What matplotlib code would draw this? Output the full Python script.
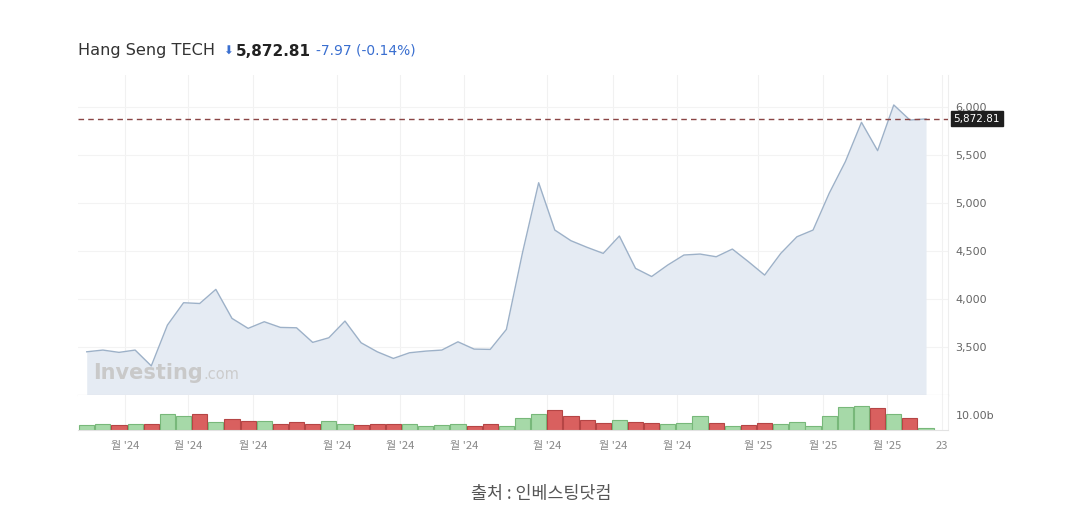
import numpy as np
import matplotlib
matplotlib.use("Agg")
import matplotlib.pyplot as plt

plt.rcParams['font.family'] = ['DejaVu Sans', 'Noto Sans CJK KR']

# ---- data (weekly closes, weekly volume in billions) ----
closes = [3447, 3465, 3441, 3465, 3300, 3725, 3958, 3950, 4097, 3795,
          3691, 3760, 3701, 3697, 3545, 3593, 3767, 3541, 3447, 3378,
          3437, 3454, 3465, 3551, 3475, 3472, 3680, 4480, 5208, 4715,
          4604, 4535, 4472, 4653, 4316, 4231, 4351, 4455, 4465, 4437,
          4517, 4385, 4246, 4472, 4645, 4715, 5098, 5427, 5837, 5542,
          6018, 5861, 5872.81]
volumes = [3.45, 3.9, 3.2, 3.9, 4.1, 10.6, 9.2, 10.6, 5.3, 7.6,
           5.75, 5.75, 3.9, 5.3, 4.1, 5.75, 3.9, 3.45, 4.1, 3.7,
           3.9, 2.8, 3.45, 3.9, 2.8, 3.7, 3.0, 8.3, 10.6, 13.3,
           9.4, 6.7, 4.8, 6.4, 5.3, 4.8, 4.1, 4.8, 9.2, 4.8,
           2.5, 3.45, 4.8, 4.1, 5.3, 2.5, 9.2, 15.2, 16.1, 14.5,
           10.6, 8.05, 1.4]
x_tick_pos = [2.37, 6.28, 10.3, 15.5, 19.4, 23.4, 28.5, 32.6, 36.6, 41.6, 45.6, 49.6, 53.0]
x_tick_labels = ["월 '24"] * 9 + ["월 '25"] * 3 + ["23"]
price_ticks = [3500, 4000, 4500, 5000, 5500, 6000]
price_tick_labels = ["3,500", "4,000", "4,500", "5,000", "5,500", "6,000"]
vol_ticks = [10.0]
vol_tick_labels = ["10.00b"]
last_price = 5872.81
title_name = "Hang Seng TECH"
title_price = "5,872.81"
title_change = "-7.97 (-0.14%)"
source_text = "출처 : 인베스팅닷컴"

W, H = 1079, 517
fig = plt.figure(figsize=(W / 100, H / 100), dpi=100)
fig.patch.set_facecolor("white")

def rect(l, t, r, b):
    return [l / W, 1 - b / H, (r - l) / W, (b - t) / H]

ax = fig.add_axes(rect(78, 75, 948, 395))
axv = fig.add_axes(rect(78, 395, 948, 430), sharex=ax)

x = np.arange(len(closes))
xlim = (-0.54, 53.36)

# grid lines
for a in (ax, axv):
    for p in x_tick_pos:
        a.axvline(p, color="#f1f1f1", lw=0.8, zorder=0)
for t in price_ticks:
    ax.axhline(t, color="#f3f3f3", lw=0.8, zorder=0)

ax.fill_between(x, closes, 2900, color="#e5ebf3", zorder=1, lw=0)
ax.plot(x, closes, color="#9db1c8", lw=1.0, zorder=2)
ax.axhline(last_price, color="#8a4545", lw=1.0, ls=(0, (4, 3)), zorder=3)

ax.set_xlim(*xlim)
ax.set_ylim(2997, 6330)
ax.yaxis.tick_right()
ax.set_yticks(price_ticks)
ax.set_yticklabels(price_tick_labels)
ax.tick_params(axis="y", length=0, pad=5.5, labelsize=8, labelcolor="#666666")
ax.tick_params(axis="x", length=0, labelbottom=False)
for s in ["top", "left"]:
    ax.spines[s].set_visible(False)
ax.spines["bottom"].set_color("#d4d4d4")
ax.spines["right"].set_color("#eeeeee")

# watermark
wm = fig.text(93 / W, 1 - 379 / H, "Investing", fontsize=15,
              fontweight="bold", color="#c9c9c9", va="baseline", zorder=4)
fig.canvas.draw()
bb = wm.get_window_extent()
fig.text(bb.x1 / W + 0.001, 1 - 379 / H, ".com", fontsize=10.5,
         color="#cccccc", va="baseline", zorder=4)

# last price box
ax.annotate("5,872.81", xy=(1.0, last_price), xycoords=("axes fraction", "data"),
            xytext=(4, 0), textcoords="offset points", fontsize=7.5, color="white",
            va="center", ha="left",
            bbox=dict(boxstyle="square,pad=0.25", fc="#1e1e1e", ec="#1e1e1e"),
            annotation_clip=False, zorder=6)

# volume bars
up = [True] + [closes[i] >= closes[i - 1] for i in range(1, len(closes))]
fc = ["#a6d9a8" if u else "#d9605f" for u in up]
ec = ["#78b87a" if u else "#b54545" for u in up]
axv.bar(x, volumes, width=0.94, color=fc, edgecolor=ec, linewidth=0.8, zorder=2)
axv.set_ylim(0, 23.5)
axv.yaxis.tick_right()
axv.set_yticks(vol_ticks)
axv.set_yticklabels(vol_tick_labels)
axv.tick_params(axis="y", length=0, pad=5.5, labelsize=8, labelcolor="#666666")
axv.set_xticks(x_tick_pos)
axv.set_xticklabels(x_tick_labels, family=["Noto Sans CJK KR", "DejaVu Sans"])
axv.tick_params(axis="x", length=0, pad=8, labelsize=8, labelcolor="#888888")
for s in ["top", "left"]:
    axv.spines[s].set_visible(False)
axv.spines["bottom"].set_color("#e2e2e2")
axv.spines["right"].set_color("#eeeeee")

# title
fig.text(78 / W, 1 - 51 / H, title_name, fontsize=11.6, color="#333333", va="center")
fig.text(223 / W, 1 - 51 / H, "⬇", fontsize=8.5, color="#3a6fd0", va="center")
fig.text(236 / W, 1 - 51 / H, title_price, fontsize=11, fontweight="bold",
         color="#222222", va="center")
fig.text(316 / W, 1 - 51 / H, title_change, fontsize=10, color="#3a6fd0", va="center")

# source
fig.text(541 / W, 1 - 494 / H, source_text, fontsize=12.5, color="#555555",
         ha="center", va="center", family=["Noto Sans CJK KR", "DejaVu Sans"])

fig.savefig("out.png", dpi=100, facecolor="white")
